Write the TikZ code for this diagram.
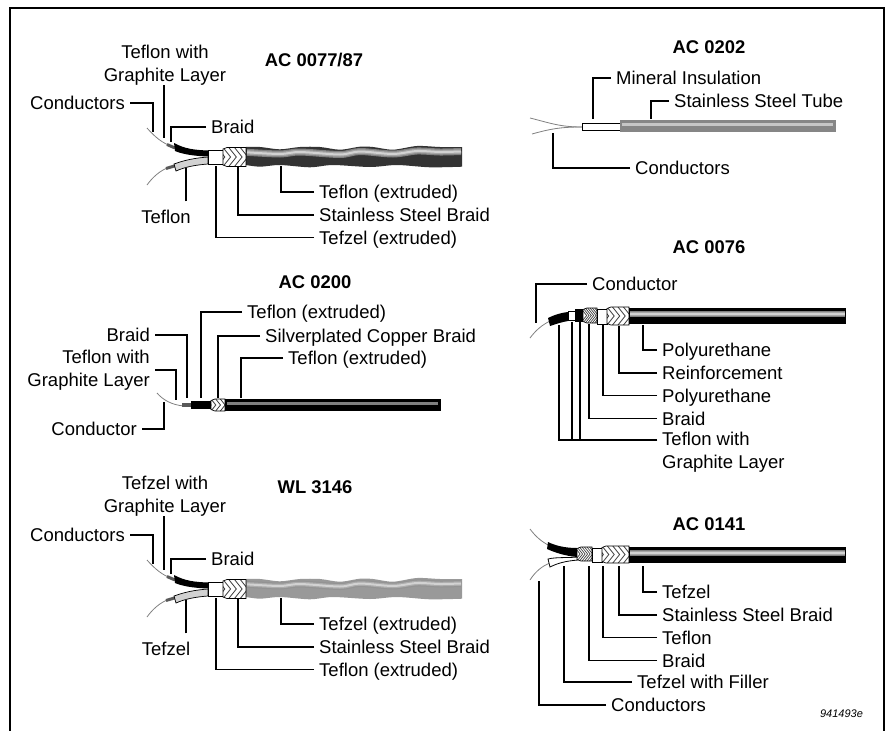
\documentclass[tikz,border=0pt]{standalone}
\usepackage{fontspec}
\setmainfont{Liberation Sans}
\usetikzlibrary{positioning}
% chevron braid: x0, y0, width, height, count, line width
\newcommand{\chevbraid}[6]{
  \begin{scope}
    \clip (#1,#2+1.5) -- (#1+4,#2) -- (#1+#3,#2) -- (#1+#3,#2+#4) -- (#1+4,#2+#4) -- (#1,#2+#4-1.5) -- cycle;
    \fill[white] (#1,#2) rectangle (#1+#3,#2+#4);
    \foreach \k [evaluate=\k as \xk using #1+\k*#3/#5] in {-1,...,#5}
      \draw[line width=#6,black!75] (\xk,#2) -- (\xk+.4*#4,#2+.5*#4) -- (\xk,#2+#4);
  \end{scope}
  \draw[line width=.7pt] (#1,#2+1.5) -- (#1+4,#2) -- (#1+#3,#2) -- (#1+#3,#2+#4) -- (#1+4,#2+#4) -- (#1,#2+#4-1.5) -- cycle;
}
% wavy outer jacket: dark, mid, light, lit
\newcommand{\wavyjacket}[4]{
  \fill[#1] plot[smooth] coordinates {(246,147) (260,147) (280,149.3) (300,147) (320,147) (340,149.7) (360,146.7) (373,147) (393,149.7) (417,146) (440,147) (462,147)}
    -- plot[smooth] coordinates {(462,166.7) (430,167.3) (397,165) (370,167) (333,165) (310,167.3) (280,165) (260,166.7) (246,165)} -- cycle;
  \foreach \w/\c in {7/#2,4.5/#3,2/#4}
    \draw[\c,line width=\w pt] plot[smooth] coordinates {(247,152.3) (280,154) (300,152) (340,154.5) (360,151.5) (393,154) (417,151) (440,152) (461,151.5)};
}
% twin conductor end, used by the two wavy cables
\newcommand{\twinhead}{
  \draw[wire] (147,128) .. controls (155,137) and (162,143) .. (173,147);
  \draw[wire] (147,185) .. controls (152,178) and (160,170) .. (170,167);
  \draw[stub] (167,144.5) -- (175,148);
  \draw[stub] (166,168.5) -- (176,165.5);
  \fill (174,143) .. controls (185,149) and (195,150) .. (208,150.5) -- (208,156.5) .. controls (193,156) and (182,154) .. (175,151) -- cycle;
  \draw[fill=gray!35,line width=.7pt] (174,164) .. controls (185,160) and (195,158) .. (208,157) -- (208,164) .. controls (195,165) and (185,167) .. (176,171) -- cycle;
  \draw[fill=white,line width=.8pt] (208,150) rectangle (223,164);
  \chevbraid{223}{147.5}{23}{19}{4}{.8pt}
}
\begin{document}
\begin{tikzpicture}[
  x=1pt,y=-1pt,
  node distance=3.7pt,
  every node/.style={font=\fontsize{18.5}{22.5}\selectfont},
  lbl/.style={anchor=west,inner ysep=0pt,inner xsep=5pt,text height=16pt,text depth=2.8pt},
  lbltwo/.style={inner ysep=0pt,inner xsep=5pt},
  title/.style={font=\fontsize{18.4}{21}\selectfont\bfseries},
  lead/.style={line width=1.3pt},
  frame/.style={line width=2pt},
  wire/.style={draw=gray,line width=.8pt},
  stub/.style={draw=gray!70!black,line width=3pt}
]
  \useasboundingbox (0,0) rectangle (889,731);
  \draw[frame] (10,731) -- (10,7.5) -- (884,7.5) -- (884,731);

  % AC 0077/87
  \wavyjacket{black!80}{gray}{gray!70}{gray!35}
  \twinhead
  \node[title] (tA) at (314,60) {AC 0077/87};
  \node[lbltwo,align=center] (graphA) at (165,65) {Teflon with\\Graphite Layer};
  \node[lbl,anchor=east] (condA) at (130,103) {Conductors};
  \node[lbl] (braidA) at (206,127) {Braid};
  \node[lbl,anchor=center] (tefA) at (166,217) {Teflon};
  \node[lbl] (extA) at (314,192) {Teflon (extruded)};
  \node[lbl,below=of extA.south west,anchor=north west] (steelA) {Stainless Steel Braid};
  \node[lbl,below=of steelA.south west,anchor=north west] (tefzA) {Tefzel (extruded)};
  \coordinate (c1) at (153,132);
  \coordinate (c2) at (164,138);
  \coordinate (c3) at (171,142);
  \coordinate (c4) at (186,168);
  \coordinate (c5) at (281,166);
  \coordinate (c6) at (238,166);
  \coordinate (c7) at (216,166);
  \draw[lead] (condA.east) -| (c1);
  \draw[lead] (graphA.south -| c2) -- (c2);
  \draw[lead] (braidA.west) -| (c3);
  \draw[lead,shorten <=6pt] (tefA.north -| c4) -- (c4);
  \draw[lead] (extA.west) -| (c5);
  \draw[lead] (steelA.west) -| (c6);
  \draw[lead] (tefzA.west) -| (c7);

  % AC 0200
  \draw[wire] (157,393) .. controls (163,400) and (172,405) .. (184,406);
  \draw[stub,line width=4pt] (182,405) -- (191,405);
  \fill (191,401) rectangle (211,409);
  \chevbraid{211}{399}{14}{12}{3}{.8pt}
  \fill (225,399) rectangle (441,411);
  \fill[gray] (227,402) rectangle (438,405);
  \node[title] (tB) at (315,282) {AC 0200};
  \node[lbl] (extB) at (242,312) {Teflon (extruded)};
  \node[lbl] (silvB) at (260,336) {Silverplated Copper Braid};
  \node[lbl] (ext2B) at (283,358) {Teflon (extruded)};
  \node[lbl,anchor=east] (braidB) at (155,335) {Braid};
  \node[lbltwo,anchor=east,align=right] (graphB) at (155,370) {Teflon with\\Graphite Layer};
  \node[lbl,anchor=east] (condB) at (142,429) {Conductor};
  \coordinate (d1) at (201,398);
  \coordinate (d2) at (218,398);
  \coordinate (d3) at (241,398);
  \coordinate (d4) at (187,398);
  \coordinate (d5) at (176,400);
  \coordinate (d6) at (164,402);
  \draw[lead] (extB.west) -| (d1);
  \draw[lead] (silvB.west) -| (d2);
  \draw[lead] (ext2B.west) -| (d3);
  \draw[lead] (braidB.east) -| (d4);
  \draw[lead] (graphB.east) -| (d5);
  \draw[lead] (condB.east) -| (d6);

  % WL 3146
  \begin{scope}[yshift=-432pt]
    \wavyjacket{gray!80}{gray!85}{gray!65}{gray!35}
    \twinhead
  \end{scope}
  \node[title] (tC) at (315,487) {WL 3146};
  \node[lbltwo,align=center] (graphC) at (165,496) {Tefzel with\\Graphite Layer};
  \node[lbl,anchor=east] (condC) at (130,535) {Conductors};
  \node[lbl] (braidC) at (206,559) {Braid};
  \node[lbl,anchor=center] (tefC) at (166,649) {Tefzel};
  \node[lbl] (extC) at (314,624) {Tefzel (extruded)};
  \node[lbl,below=of extC.south west,anchor=north west] (steelC) {Stainless Steel Braid};
  \node[lbl,below=of steelC.south west,anchor=north west] (tefzC) {Teflon (extruded)};
  \coordinate (e1) at (153,564);
  \coordinate (e2) at (164,570);
  \coordinate (e3) at (171,574);
  \coordinate (e4) at (186,600);
  \coordinate (e5) at (281,598);
  \coordinate (e6) at (238,598);
  \coordinate (e7) at (216,598);
  \draw[lead] (condC.east) -| (e1);
  \draw[lead] (graphC.south -| e2) -- (e2);
  \draw[lead] (braidC.west) -| (e3);
  \draw[lead,shorten <=6pt] (tefC.north -| e4) -- (e4);
  \draw[lead] (extC.west) -| (e5);
  \draw[lead] (steelC.west) -| (e6);
  \draw[lead] (tefzC.west) -| (e7);

  % AC 0202
  \draw[wire] (530,118) .. controls (550,123) and (560,127) .. (582,127);
  \draw[wire] (532,134) .. controls (550,129) and (560,127) .. (582,127);
  \draw[fill=white,line width=.8pt] (582,123) rectangle (620,130);
  \fill[gray!95] (620,120) rectangle (836,132);
  \fill[gray!45] (622,123) rectangle (833,125.5);
  \node[title] (tD) at (709,47) {AC 0202};
  \node[lbl] (minD) at (611,78) {Mineral Insulation};
  \node[lbl] (tubeD) at (669,101) {Stainless Steel Tube};
  \node[lbl] (condD) at (630,168) {Conductors};
  \coordinate (f1) at (593,119);
  \coordinate (f2) at (651,119);
  \coordinate (f3) at (553,133);
  \draw[lead] (minD.west) -| (f1);
  \draw[lead] (tubeD.west) -| (f2);
  \draw[lead] (condD.west) -| (f3);

  % AC 0076
  \draw[wire] (530,338) .. controls (536,330) and (542,325) .. (550,321);
  \fill (548,318) .. controls (554,315) and (560,313) .. (568,312) -- (568,321) .. controls (562,322) and (556,324) .. (550,326) -- cycle;
  \draw[fill=white,line width=.8pt] (568,311) rectangle (575,320);
  \fill (575,309) rectangle (583,322);
  \chevbraid{583}{308}{14}{15}{6}{.7pt}
  \draw[fill=white,line width=.8pt] (597,309) rectangle (607,324);
  \chevbraid{607}{307}{22}{18}{4}{.8pt}
  \fill (629,308) rectangle (846,324);
  \foreach \w/\c in {6/gray,4/gray!70,2/gray!35}
    \draw[\c,line width=\w pt] (630,314) -- (845,314);
  \node[title] (tE) at (709,247) {AC 0076};
  \node[lbl] (condE) at (587,284) {Conductor};
  \node[lbl] (polyE) at (657,350) {Polyurethane};
  \node[lbl,below=of polyE.south west,anchor=north west] (reinfE) {Reinforcement};
  \node[lbl,below=of reinfE.south west,anchor=north west] (poly2E) {Polyurethane};
  \node[lbl,below=of poly2E.south west,anchor=north west] (braidE) {Braid};
  \node[lbltwo,anchor=west,align=left] (graphE) at (657,452) {Teflon with\\Graphite Layer};
  \coordinate (g1) at (536,323);
  \coordinate (g2) at (643,325);
  \coordinate (g3) at (619,326);
  \coordinate (g4) at (603,325);
  \coordinate (g5) at (589,324);
  \coordinate (g6) at (559,325);
  \coordinate (g7) at (572,322);
  \coordinate (g8) at (580,322);
  \coordinate (gjoin) at (657,440);
  \draw[lead] (condE.west) -| (g1);
  \draw[lead] (polyE.west) -| (g2);
  \draw[lead] (reinfE.west) -| (g3);
  \draw[lead] (poly2E.west) -| (g4);
  \draw[lead] (braidE.west) -| (g5);
  \draw[lead] (gjoin) -| (g6);
  \draw[lead] (gjoin) -| (g7);
  \draw[lead] (gjoin) -| (g8);

  % AC 0141
  \draw[wire] (530,529) .. controls (536,537) and (542,542) .. (550,546);
  \draw[wire] (530,580) .. controls (535,572) and (542,566) .. (550,563);
  \fill (548,542) .. controls (556,546) and (566,548) .. (577,548) -- (577,557) .. controls (566,556) and (556,553) .. (547,549) -- cycle;
  \draw[fill=white,line width=.8pt] (548,559) .. controls (556,557) and (566,558) .. (578,557) -- (578,560) .. controls (566,561) and (558,563) .. (550,567) -- cycle;
  \chevbraid{577}{547}{15}{14}{6}{.7pt}
  \draw[fill=white,line width=.8pt] (592,548) rectangle (602,562);
  \chevbraid{602}{546}{27}{17}{5}{.8pt}
  \fill (629,547) rectangle (846,563);
  \foreach \w/\c in {6/gray,4/gray!70,2/gray!35}
    \draw[\c,line width=\w pt] (630,553) -- (845,553);
  \node[title] (tF) at (709,524) {AC 0141};
  \node[lbl] (tefzF) at (657,592) {Tefzel};
  \node[lbl,below=of tefzF.south west,anchor=north west] (steelF) {Stainless Steel Braid};
  \node[lbl,below=of steelF.south west,anchor=north west] (teflF) {Teflon};
  \node[lbl,below=of teflF.south west,anchor=north west] (braidF) {Braid};
  \node[lbl] (fillF) at (632,682) {Tefzel with Filler};
  \node[lbl] (condF) at (606,705) {Conductors};
  \coordinate (h1) at (643,566);
  \coordinate (h2) at (619,566);
  \coordinate (h3) at (603,566);
  \coordinate (h4) at (589,566);
  \coordinate (h5) at (564,566);
  \coordinate (h6) at (539,581);
  \draw[lead] (tefzF.west) -| (h1);
  \draw[lead] (steelF.west) -| (h2);
  \draw[lead] (teflF.west) -| (h3);
  \draw[lead] (braidF.west) -| (h4);
  \draw[lead] (fillF.west) -| (h5);
  \draw[lead] (condF.west) -| (h6);
  \node[font=\fontsize{11}{14}\selectfont\itshape] (fig) at (841.5,714) {941493e};
\end{tikzpicture}
\end{document}
